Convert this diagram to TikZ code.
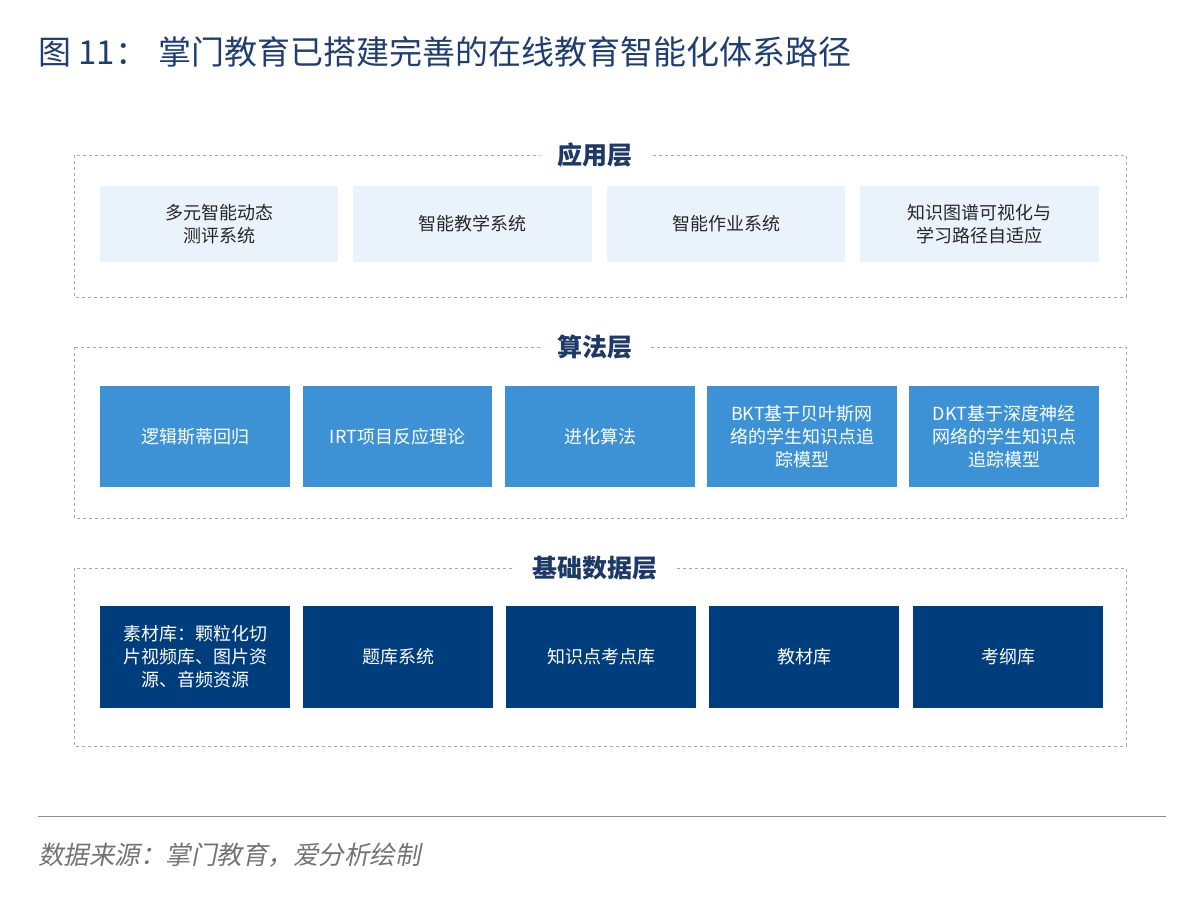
\documentclass[tikz,border=0pt]{standalone}
\usepackage{fontspec}
\setmainfont{Noto Sans CJK SC}
\newfontfamily\slantcjk[FakeSlant=0.2]{Noto Sans CJK SC}
\usetikzlibrary{positioning}
\definecolor{titleblue}{HTML}{1F3F73}
\definecolor{lightbox}{HTML}{EAF3FC}
\definecolor{midbox}{HTML}{3C92D4}
\definecolor{darkbox}{HTML}{003D7C}
\definecolor{dashgray}{HTML}{A8A8A8}
\tikzset{
  layerframe/.style={draw=dashgray, dashed, line width=0.8pt},
  layerlabel/.style={fill=white, inner xsep=18pt, font=\fontsize{25}{29}\selectfont\bfseries, text=titleblue!90!black},
  appbox/.style={fill=lightbox, text=black!85, inner sep=0pt, align=center, font=\fontsize{18}{23}\selectfont},
  algbox/.style={fill=midbox, text=white, inner sep=0pt, align=center, font=\fontsize{18}{23}\selectfont},
  databox/.style={fill=darkbox, text=white, inner sep=0pt, align=center, font=\fontsize{18}{23}\selectfont},
}
\newcommand{\boxat}[6]{% style, name, x1, x2, ytop, ybottom
  \node[#1, minimum width=#4pt-#3pt, minimum height=#5pt-#6pt] (#2) at ({(#3+#4)/2},{(#5+#6)/2})}
\begin{document}
\begin{tikzpicture}[x=1pt,y=1pt]
\useasboundingbox (0,0) rectangle (1200,912);
% titel
\node[anchor=west, inner sep=0pt, text=titleblue, font=\fontsize{33}{38}\selectfont] (title) at (38,860) {图 11：\hspace{0.3em}掌门教育已搭建完善的在线教育智能化体系路径};

% applikationslager
\draw[layerframe] (74,757) rectangle (1126,615);
\node[layerlabel] (app) at (595,757) {应用层};
\boxat{appbox}{a1}{100}{338}{726}{650}{多元智能动态\\测评系统};
\boxat{appbox}{a2}{353}{592}{726}{650}{智能教学系统};
\boxat{appbox}{a3}{607}{845}{726}{650}{智能作业系统};
\boxat{appbox}{a4}{860}{1099}{726}{650}{知识图谱可视化与\\学习路径自适应};

% algoritmlager
\draw[layerframe] (74,565) rectangle (1126,394);
\node[layerlabel] (alg) at (595,565) {算法层};
\boxat{algbox}{b1}{100}{290}{526}{425}{逻辑斯蒂回归};
\boxat{algbox}{b2}{303}{492}{526}{425}{IRT项目反应理论};
\boxat{algbox}{b3}{505}{695}{526}{425}{进化算法};
\boxat{algbox}{b4}{707}{897}{526}{425}{BKT基于贝叶斯网\\络的学生知识点追\\踪模型};
\boxat{algbox}{b5}{909}{1099}{526}{425}{DKT基于深度神经\\网络的学生知识点\\追踪模型};

% datalager
\draw[layerframe] (74,344) rectangle (1126,166);
\node[layerlabel] (dat) at (595,344) {基础数据层};
\boxat{databox}{c1}{100}{290}{306}{204}{素材库：颗粒化切\\片视频库、图片资\\源、音频资源};
\boxat{databox}{c2}{303}{493}{306}{204}{题库系统};
\boxat{databox}{c3}{506}{696}{306}{204}{知识点考点库};
\boxat{databox}{c4}{709}{899}{306}{204}{教材库};
\boxat{databox}{c5}{913}{1103}{306}{204}{考纲库};

% källa
\draw[black!45, line width=0.8pt] (38,96) -- (1166,96);
\node[anchor=west, inner sep=0pt, text=black!55, font=\fontsize{25.5}{29}\selectfont\slantcjk] (src) at (38,57) {数据来源：掌门教育，爱分析绘制};
\end{tikzpicture}
\end{document}
